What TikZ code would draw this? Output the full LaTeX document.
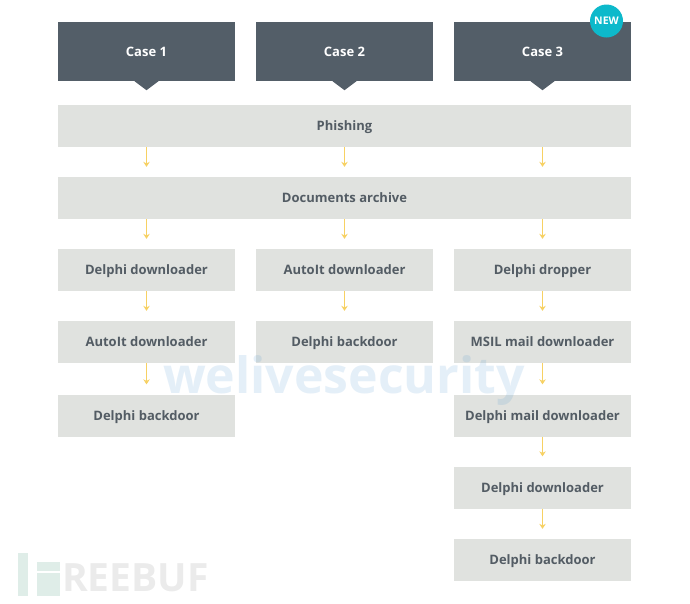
\documentclass[tikz,border=0pt]{standalone}
\usepackage{fontspec}
\setmainfont{Open Sans}
\usetikzlibrary{arrows.meta}
\definecolor{slate}{HTML}{535E68}
\definecolor{pale}{HTML}{E0E2DF}
\definecolor{ink}{HTML}{535C64}
\definecolor{amber}{HTML}{F7D163}
\definecolor{teal}{HTML}{0DB9CB}
\definecolor{logotint}{HTML}{DFEDE8}
\tikzset{x=1pt,y=-1pt,
 boxbase/.style={minimum height=42pt,inner sep=0pt,fill=pale,text=ink,text height=9pt,text depth=0pt,font=\fontsize{13}{15}\selectfont\bfseries},
 narrow/.style={boxbase,minimum width=177pt},
 wide/.style={boxbase,minimum width=573pt},
 header/.style={minimum width=177pt,minimum height=59pt,inner sep=0pt,fill=slate,text=white,text height=9pt,text depth=0pt,font=\fontsize{13}{15}\selectfont\bfseries},
 flow/.style={draw=amber,line width=1.4pt,shorten >=10pt,-{Stealth[length=5pt,width=6.5pt]}},
 pointer/.style={fill=slate},
 mark1/.style={text=blue!45!cyan!60!gray,opacity=.13,font=\fontsize{50}{52}\selectfont\bfseries,inner sep=0pt},
 mark2/.style={text=black,opacity=.08,font=\fontsize{39}{40}\selectfont\bfseries,inner sep=0pt},
 logo/.style={fill=logotint},
}
\begin{document}
\begin{tikzpicture}
\useasboundingbox (0,0) rectangle (690,603);
\fill[white] (0,0) rectangle (690,603);
% headers
\node[header] (c1) at (146.5,51.5) {Case 1};
\node[header] (c2) at (344.5,51.5) {Case 2};
\node[header] (c3) at (542.5,51.5) {Case 3};
\foreach \n in {c1,c2,c3}{
 \fill[pointer] ([xshift=-12pt]\n.south) -- ([xshift=12pt]\n.south) -- ([yshift=-9pt]\n.south) -- cycle;
}
\node[circle,fill=teal,minimum size=33pt,inner sep=0pt,text=white,font=\fontsize{10.5}{12}\selectfont\bfseries] (new) at (606.5,21) {NEW};
% wide
\node[wide] (phish) at (344.5,126) {Phishing};
\node[wide] (docs) at (344.5,198) {Documents archive};
% col 1
\node[narrow] (a1) at (146.5,270) {Delphi downloader};
\node[narrow] (a2) at (146.5,342) {AutoIt downloader};
\node[narrow] (a3) at (146.5,415.5) {Delphi backdoor};
% col 2
\node[narrow] (b1) at (344.5,270) {AutoIt downloader};
\node[narrow] (b2) at (344.5,342) {Delphi backdoor};
% col 3
\node[narrow] (d1) at (542.5,270) {Delphi dropper};
\node[narrow] (d2) at (542.5,342) {MSIL mail downloader};
\node[narrow] (d3) at (542.5,415.5) {Delphi mail downloader};
\node[narrow] (d4) at (542.5,487.5) {Delphi downloader};
\node[narrow] (d5) at (542.5,560) {Delphi backdoor};
% connectors
\foreach \n in {c1,c2,c3}{
 \draw[flow] (phish.south -| \n) -- (docs.north -| \n);
}
\draw[flow] (docs.south -| a1) -- (a1);
\draw[flow] (docs.south -| b1) -- (b1);
\draw[flow] (docs.south -| d1) -- (d1);
\draw[flow] (a1) -- (a2);
\draw[flow] (a2) -- (a3);
\draw[flow] (b1) -- (b2);
\draw[flow] (d1) -- (d2);
\draw[flow] (d2) -- (d3);
\draw[flow] (d3) -- (d4);
\draw[flow] (d4) -- (d5);
% watermarks
\node[mark1] (wm) at (344,381) {welivesecurity};
\fill[logo] (18,553) rectangle (28,596);
\fill[logo] (37,562) rectangle (60,571);
\fill[logo] (37,573) rectangle (60,596);
\node[mark2,anchor=west] (fb) at (62,578) {REEBUF};
\end{tikzpicture}
\end{document}
